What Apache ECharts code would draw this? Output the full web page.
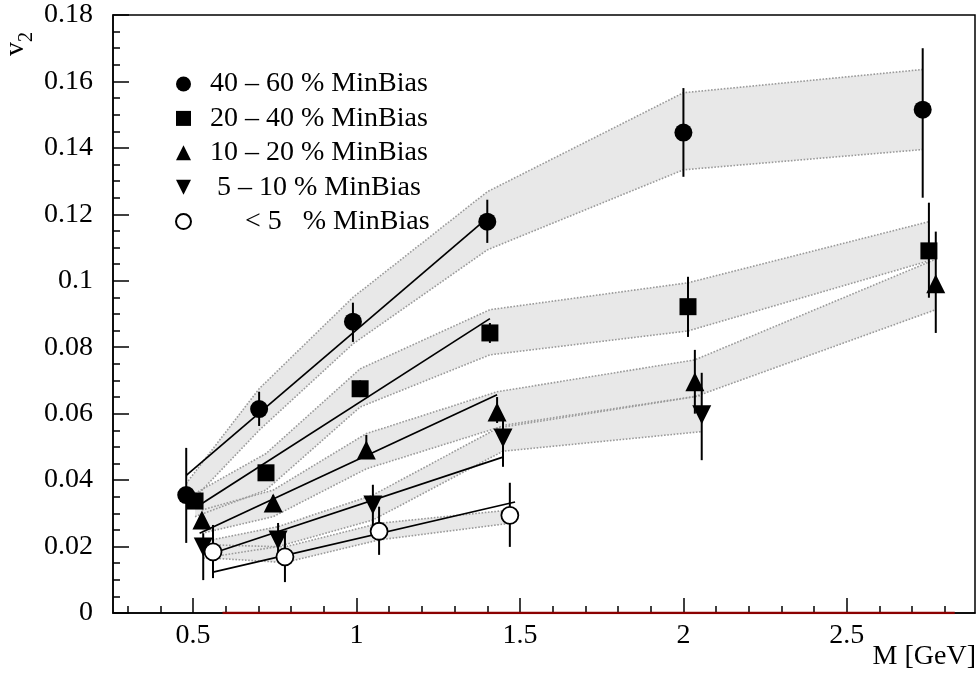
<!DOCTYPE html>
<html><head><meta charset="utf-8">
<script src="https://cdn.jsdelivr.net/npm/echarts@6/dist/echarts.min.js"></script>
<style>html,body{margin:0;padding:0;background:#fff}#c{width:978px;height:677px}</style>
</head><body><div id="c"></div>
<script>
// ---- data ----
const legendNames = ['40 \u2013 60 % MinBias','20 \u2013 40 % MinBias','10 \u2013 20 % MinBias',' 5 \u2013 10 % MinBias','     < 5   % MinBias'];

const m1 = [0.479,0.702,0.989,1.400,2.000,2.732];
const v1 = [0.0355,0.0614,0.0877,0.1178,0.1446,0.1515];
const hi1 = [0.0497,0.0666,0.0934,0.1244,0.158,0.170];
const lo1 = [0.0211,0.0563,0.0816,0.1114,0.1313,0.125];
const bu1 = [0.039,0.0675,0.095,0.1268,0.1566,0.1636];
const bl1 = [0.032,0.055,0.081,0.1093,0.1334,0.1395];
const fitX1 = [0.48,1.39], fitY1 = [0.0415,0.118];

const m2 = [0.506,0.723,1.011,1.408,2.014,2.751];
const v2 = [0.0337,0.0422,0.0675,0.0843,0.0922,0.109];
const hi2 = [0.036,0.0445,0.070,0.0873,0.1012,0.1235];
const lo2 = [0.0315,0.040,0.065,0.0813,0.0831,0.0949];
const bu2 = [0.036,0.048,0.0735,0.0913,0.0994,0.1178];
const bl2 = [0.029,0.037,0.062,0.0777,0.0849,0.106];
const fitX2 = [0.52,1.408], fitY2 = [0.0325,0.0886];

const m3 = [0.527,0.745,1.030,1.430,2.035,2.772];
const v3 = [0.028,0.0331,0.0491,0.0605,0.0696,0.0991];
const hi3 = [0.030,0.0355,0.0536,0.065,0.0792,0.1148];
const lo3 = [0.026,0.031,0.0467,0.0572,0.060,0.0843];
const bu3 = [0.031,0.037,0.054,0.0666,0.0762,0.1065];
const bl3 = [0.024,0.029,0.0434,0.0557,0.0651,0.0913];
const fitX3 = [0.52,1.43], fitY3 = [0.024,0.0657];

const m4 = [0.531,0.760,1.050,1.448,2.056];
const v4 = [0.0199,0.0220,0.0325,0.0527,0.0597];
const hi4 = [0.024,0.0271,0.0386,0.0587,0.0723];
const lo4 = [0.0099,0.017,0.026,0.044,0.046];
const bu4 = [0.0215,0.026,0.0355,0.0565,0.0655];
const bl4 = [0.0165,0.020,0.028,0.0487,0.0546];
const fitX4 = [0.56,1.45], fitY4 = [0.018,0.047];

const m5 = [0.561,0.781,1.069,1.469];
const v5 = [0.0184,0.0169,0.0246,0.0294];
const hi5 = [0.0265,0.0245,0.032,0.0392];
const lo5 = [0.0105,0.0093,0.0175,0.0199];
const bu5 = [0.0205,0.0199,0.027,0.031];
const bl5 = [0.0165,0.0152,0.022,0.027];
const fitX5 = [0.561,1.485], fitY5 = [0.0123,0.0334];

const zeroLineX = [0.59,2.83], zeroLineY = [0,0];

const xMajor = [0.5,1,1.5,2,2.5];
const xMajorLabels = ['0.5','1','1.5','2','2.5'];
const xMinor = [0.3,0.4,0.6,0.7,0.8,0.9,1.1,1.2,1.3,1.4,1.6,1.7,1.8,1.9,2.1,2.2,2.3,2.4,2.6,2.7,2.8];
const yTickLabels = ['0','0.02','0.04','0.06','0.08','0.1','0.12','0.14','0.16','0.18'];

// ---- build ----
const FONT = 'Liberation Serif';
const sets = [
  {m:m1,v:v1,hi:hi1,lo:lo1,bu:bu1,bl:bl1,fx:fitX1,fy:fitY1,sym:'circle',size:18,fill:'#000'},
  {m:m2,v:v2,hi:hi2,lo:lo2,bu:bu2,bl:bl2,fx:fitX2,fy:fitY2,sym:'rect',size:17,fill:'#000'},
  {m:m3,v:v3,hi:hi3,lo:lo3,bu:bu3,bl:bl3,fx:fitX3,fy:fitY3,sym:'triangle',size:19,fill:'#000'},
  {m:m4,v:v4,hi:hi4,lo:lo4,bu:bu4,bl:bl4,fx:fitX4,fy:fitY4,sym:'path://M0,0L10,0L5,10Z',size:19,fill:'#000'},
  {m:m5,v:v5,hi:hi5,lo:lo5,bu:bu5,bl:bl5,fx:fitX5,fy:fitY5,sym:'circle',size:17,fill:'#fff'}
];

const series = [];
// band fills
series.push({
  type:'custom', silent:true, z:1,
  data: sets.map((s,i)=>[s.m[0], s.bl[0], i]),
  encode:{x:0,y:1},
  renderItem:(p,api)=>{
    const s = sets[api.value(2)];
    const pts = [];
    s.m.forEach((x,k)=>pts.push(api.coord([x,s.bu[k]])));
    for(let k=s.m.length-1;k>=0;k--) pts.push(api.coord([s.m[k],s.bl[k]]));
    return {type:'polygon', shape:{points:pts}, style:{fill:'#e8e8e8', stroke:null}};
  }
});
// band outlines
series.push({
  type:'custom', silent:true, z:2,
  data: sets.map((s,i)=>[s.m[0], s.bl[0], i]),
  encode:{x:0,y:1},
  renderItem:(p,api)=>{
    const s = sets[api.value(2)];
    const up = s.m.map((x,k)=>api.coord([x,s.bu[k]]));
    const dn = s.m.map((x,k)=>api.coord([x,s.bl[k]]));
    const st = {stroke:'#9a9a9a', lineWidth:1.6, lineDash:[1.6,1.6], fill:null};
    return {type:'group', children:[
      {type:'polyline', shape:{points:up}, style:st},
      {type:'polyline', shape:{points:dn}, style:st}
    ]};
  }
});
// fit lines
sets.forEach(s=>{
  series.push({type:'line', silent:true, z:3, showSymbol:false, symbol:'none',
    data: s.fx.map((x,k)=>[x,s.fy[k]]),
    lineStyle:{color:'#000', width:1.7}});
});
// error bars
sets.forEach(s=>{
  series.push({type:'custom', silent:true, z:4,
    data: s.m.map((x,k)=>[x,s.lo[k],s.hi[k]]),
    encode:{x:0,y:[1,2]},
    renderItem:(p,api)=>{
      const a = api.coord([api.value(0),api.value(1)]);
      const b = api.coord([api.value(0),api.value(2)]);
      return {type:'line', shape:{x1:a[0],y1:a[1],x2:b[0],y2:b[1]}, style:{stroke:'#000', lineWidth:2}};
    }});
});
// markers
sets.forEach((s,i)=>{
  series.push({type:'scatter', name:legendNames[i], z:5, symbol:s.sym, symbolSize:s.size,
    data: s.m.map((x,k)=>[x,s.v[k]]),
    itemStyle:{color:s.fill, borderColor:'#000', borderWidth: s.fill==='#fff'?1.8:0, opacity:1}});
});
// zero line
series.push({type:'line', silent:true, z:6, symbol:'none', data: zeroLineX.map((x,k)=>[x,zeroLineY[k]]),
  lineStyle:{color:'#8b0000', width:2.5}});

const axisFont = {fontFamily:FONT, fontSize:28, color:'#000'};
const option = {
  animation:false,
  backgroundColor:'#fff',
  grid:{left:113, right:3, top:15, bottom:64, show:true, borderColor:'#000', borderWidth:1.5, backgroundColor:'transparent'},
  xAxis:[
    {type:'value', min:0.255, max:2.892, position:'bottom',
     axisLine:{show:true, lineStyle:{color:'#000', width:1.5}},
     axisTick:{show:true, inside:true, length:15, customValues:xMajor, lineStyle:{color:'#000', width:1.5}},
     axisLabel:Object.assign({customValues:xMajor, margin:9, formatter:(v)=>xMajorLabels[xMajor.indexOf(+v)] ?? ''}, axisFont),
     splitLine:{show:false}},
    {type:'value', min:0.255, max:2.892, position:'bottom', gridIndex:0,
     axisLine:{show:false},
     axisTick:{show:true, inside:true, length:7, customValues:xMinor, lineStyle:{color:'#000', width:1.5}},
     axisLabel:{show:false}, splitLine:{show:false}}
  ],
  yAxis:{type:'value', min:0, max:0.18, interval:0.02,
    axisLine:{show:true, lineStyle:{color:'#000', width:1.5}},
    axisTick:{show:true, inside:true, length:16, lineStyle:{color:'#000', width:1.5}},
    minorTick:{show:true, splitNumber:4, length:7, lineStyle:{color:'#000', width:1.5}},
    axisLabel:Object.assign({margin:20, formatter:(v)=>yTickLabels[Math.round(v/0.02)]}, axisFont),
    splitLine:{show:false}},
  legend:{orient:'vertical', left:175, top:70, padding:0, itemWidth:15, itemHeight:15, itemGap:6.4,
    selectedMode:false,
    textStyle:{fontFamily:FONT, fontSize:28, color:'#000', padding:[0,0,0,14]},
    data:[
      {name:legendNames[0], icon:'circle'},
      {name:legendNames[1], icon:'rect'},
      {name:legendNames[2], icon:'triangle'},
      {name:legendNames[3], icon:'path://M0,0L10,0L5,10Z'},
      {name:legendNames[4], icon:'circle'}
    ]},
  graphic:[
    {type:'text', x:30, y:56, rotation:Math.PI/2, silent:true,
     style:{text:'{a|v}{b|2}', align:'left', verticalAlign:'bottom',
       rich:{a:{fontFamily:FONT, fontSize:28, fill:'#000', verticalAlign:'bottom'}, b:{fontFamily:FONT, fontSize:20, fill:'#000', verticalAlign:'bottom', padding:[0,0,-7,0]}}}},
    {type:'text', x:976, y:671, silent:true,
     style:{text:'M [GeV]', align:'right', verticalAlign:'bottom', fontFamily:FONT, fontSize:28, fill:'#000'}}
  ],
  series: series
};
const chart = echarts.init(document.getElementById('c'), null, {renderer:'canvas'});
chart.setOption(option);
</script></body></html>
